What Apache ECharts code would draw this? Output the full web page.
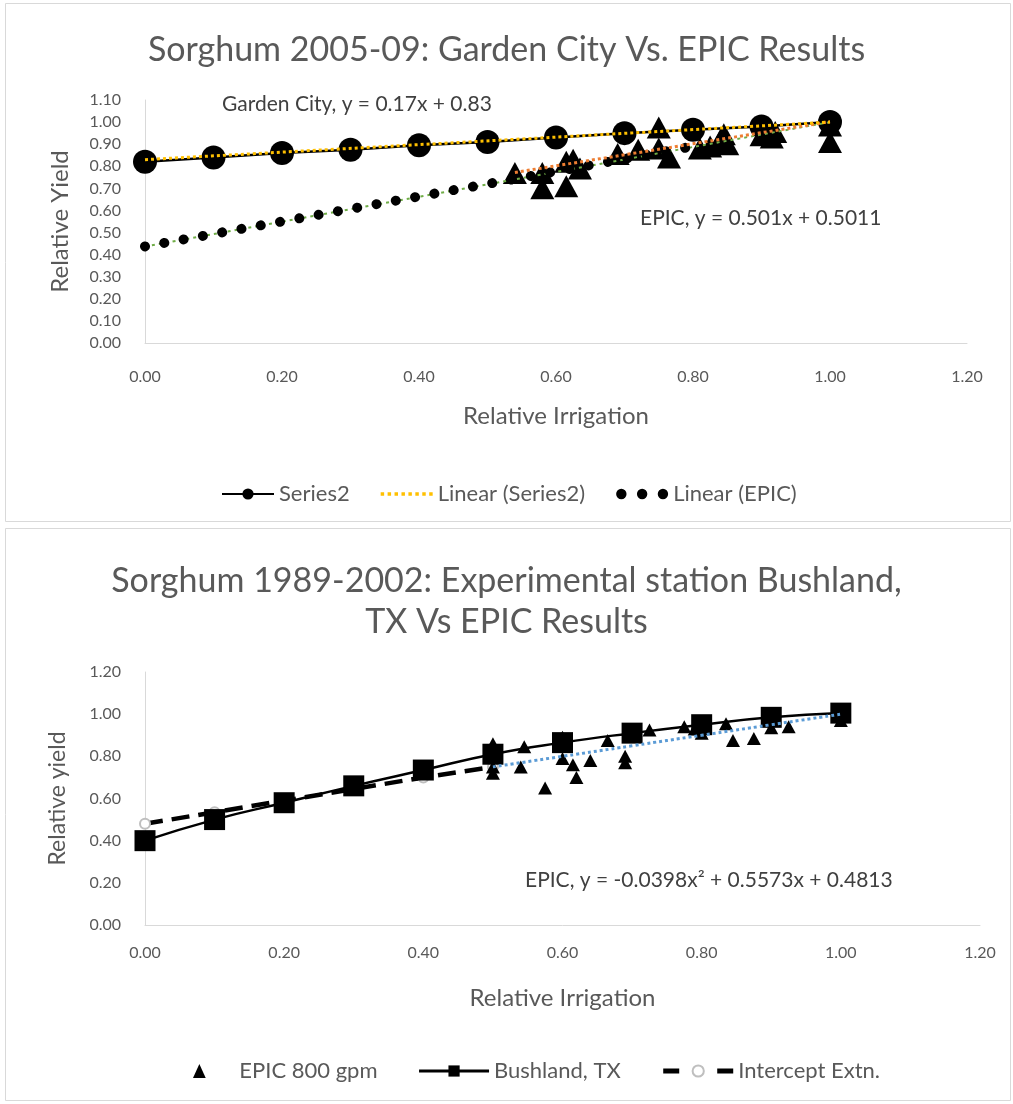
<!DOCTYPE html>
<html><head><meta charset="utf-8">
<script src="https://cdn.jsdelivr.net/npm/echarts@6/dist/echarts.min.js"></script>
<style>html,body{margin:0;padding:0;background:#fff}#c{width:1013px;height:1104px}</style>
</head><body><div id="c"></div>
<script>
const FONT = 'Lato, "Liberation Sans", sans-serif';
// ---------- Top chart data ----------
const gardenX = [0, 0.1, 0.2, 0.3, 0.4, 0.5, 0.6, 0.7, 0.8, 0.9, 1.0];
const gardenY = [0.82, 0.84, 0.86, 0.875, 0.895, 0.91, 0.93, 0.95, 0.965, 0.98, 1.0];
const gardenTrend = [[0, 0.83], [1.0, 1.0]];
const epicTopPts = [[0.54,0.77],[0.58,0.77],[0.58,0.70],[0.615,0.71],[0.615,0.82],[0.625,0.83],[0.635,0.79],
  [0.69,0.855],[0.72,0.875],[0.75,0.975],[0.75,0.88],[0.765,0.84],[0.81,0.88],[0.825,0.89],[0.84,0.92],
  [0.845,0.945],[0.85,0.90],[0.90,0.94],[0.915,0.93],[0.92,0.955],[1.0,0.985],[1.0,0.91]];
const epicTopTrend = [[0.54, 0.772], [1.0, 1.002]];
const epicExtension = [[0, 0.437], [0.8, 0.89]];
const epicGreen = [[0, 0.437], [1.0, 1.0]];
// ---------- Bottom chart data ----------
const bushX = [0, 0.1, 0.2, 0.3, 0.4, 0.5, 0.6, 0.7, 0.8, 0.9, 1.0];
const bushY = [0.40, 0.50, 0.58, 0.66, 0.735, 0.81, 0.865, 0.91, 0.95, 0.985, 1.005];
const interceptX = [0, 0.1, 0.2, 0.3, 0.4, 0.5];
const interceptY = [0.48, 0.535, 0.59, 0.645, 0.70, 0.75];
const epic800 = [[0.50,0.86],[0.50,0.75],[0.50,0.72],[0.545,0.845],[0.54,0.75],[0.575,0.65],[0.60,0.89],
  [0.60,0.79],[0.615,0.76],[0.62,0.70],[0.64,0.78],[0.665,0.875],[0.69,0.80],[0.69,0.77],[0.725,0.925],
  [0.775,0.94],[0.79,0.93],[0.80,0.91],[0.835,0.955],[0.845,0.875],[0.875,0.885],[0.90,0.935],[0.925,0.94],[1.0,0.97]];
const epicPolyTrend = [[0.5,0.75],[0.6,0.80],[0.7,0.85],[0.8,0.90],[0.9,0.95],[1.0,1.0]];

const pair = (xs, ys) => xs.map((x, i) => [x, ys[i]]);
const grey = '#595959';
const axisLbl = { color: grey, fontSize: 16, fontFamily: FONT, formatter: v => v.toFixed(2) };
const axisLine = { show: true, lineStyle: { color: '#d9d9d9', width: 1 } };
const nameStyleX = { color: grey, fontSize: 24, fontFamily: FONT };

const yellowIcon = 'path://' + [0,6,12,18,24,30,36,42].map(x => `M${x},0h3v3h-3z`).join('');
const dotsIcon = 'path://M0,5a5,5 0 1,0 10,0a5,5 0 1,0 -10,0M20,5a5,5 0 1,0 10,0a5,5 0 1,0 -10,0M40,5a5,5 0 1,0 10,0a5,5 0 1,0 -10,0';
const triIcon = 'path://M5,0L10,11L0,11Z';

const chart = echarts.init(document.getElementById('c'));
chart.setOption({
  backgroundColor: '#fff',
  animation: false,
  title: [
    { text: 'Sorghum 2005-09: Garden City Vs. EPIC Results', left: 'center', top: 28,
      textStyle: { fontFamily: FONT, fontSize: 34, fontWeight: 'normal', color: grey } },
    { text: 'Sorghum 1989-2002: Experimental station Bushland,\nTX Vs EPIC Results', left: 'center', top: 556,
      textStyle: { fontFamily: FONT, fontSize: 34, fontWeight: 'normal', color: grey, lineHeight: 41 } }
  ],
  grid: [
    { left: 145, right: 46, top: 100, height: 243 },
    { left: 145, right: 33, top: 672, height: 253 }
  ],
  xAxis: [
    { gridIndex: 0, type: 'value', min: 0, max: 1.2, interval: 0.2, axisLine, axisTick: { show: false },
      splitLine: { show: false }, axisLabel: { ...axisLbl, margin: 26 },
      name: 'Relative Irrigation', nameLocation: 'middle', nameGap: 61, nameTextStyle: nameStyleX },
    { gridIndex: 1, type: 'value', min: 0, max: 1.2, interval: 0.2, axisLine, axisTick: { show: false },
      splitLine: { show: false }, axisLabel: { ...axisLbl, margin: 20 },
      name: 'Relative Irrigation', nameLocation: 'middle', nameGap: 61, nameTextStyle: nameStyleX }
  ],
  yAxis: [
    { gridIndex: 0, type: 'value', min: 0, max: 1.1, interval: 0.1, axisLine, axisTick: { show: false },
      splitLine: { show: false }, axisLabel: { ...axisLbl, margin: 24 },
      name: 'Relative Yield', nameLocation: 'middle', nameGap: 73,
      nameTextStyle: { color: grey, fontSize: 24, fontFamily: FONT } },
    { gridIndex: 1, type: 'value', min: 0, max: 1.2, interval: 0.2, axisLine, axisTick: { show: false },
      splitLine: { show: false }, axisLabel: { ...axisLbl, margin: 24 },
      name: 'Relative yield', nameLocation: 'middle', nameGap: 76,
      nameTextStyle: { color: grey, fontSize: 23, fontFamily: FONT } }
  ],
  legend: [
    { left: 216, top: 478, itemGap: 31, itemWidth: 52, itemHeight: 14,
      textStyle: { color: grey, fontSize: 22, fontFamily: FONT },
      data: [
        { name: 'Series2' },
        { name: 'Linear (Series2)', icon: yellowIcon, itemStyle: { color: '#ffc000' } },
        { name: 'Linear (EPIC)', icon: dotsIcon, itemStyle: { color: '#000' } }
      ] },
    { left: 188, top: 1055, itemGap: 40, itemWidth: 70, itemHeight: 14,
      textStyle: { color: grey, fontSize: 22, fontFamily: FONT },
      data: [
        { name: 'EPIC 800 gpm', icon: triIcon, itemStyle: { color: '#000' } },
        { name: 'Bushland, TX', lineStyle: { width: 3, color: '#000' } },
        { name: 'Intercept Extn.', lineStyle: { width: 5, color: '#000', type: [16, 38] },
          itemStyle: { color: '#bfbfbf', borderColor: '#bfbfbf', borderWidth: 1.5 } }
      ] }
  ],
  series: [
    // ---- top ----
    { name: 'Series2', type: 'line', xAxisIndex: 0, yAxisIndex: 0, data: pair(gardenX, gardenY),
      symbol: 'circle', symbolSize: 24, itemStyle: { color: '#000' }, lineStyle: { color: '#000', width: 2.5 }, z: 2 },
    { name: 'EPIC', type: 'scatter', xAxisIndex: 0, yAxisIndex: 0, data: epicTopPts,
      symbol: 'triangle', symbolSize: [24, 22], itemStyle: { color: '#000', opacity: 1 }, z: 3 },
    { name: 'EPIC green', type: 'line', xAxisIndex: 0, yAxisIndex: 0, data: epicGreen, symbol: 'none',
      lineStyle: { color: '#70ad47', width: 2, type: [3, 4] }, z: 4 },
    { name: 'Linear (EPIC)', type: 'line', xAxisIndex: 0, yAxisIndex: 0, data: epicExtension, symbol: 'none',
      itemStyle: { color: '#000' },
      lineStyle: { color: '#000', width: 10, type: [0.01, 19.6], cap: 'round' }, z: 5 },
    { name: 'EPIC trend', type: 'line', xAxisIndex: 0, yAxisIndex: 0, data: epicTopTrend, symbol: 'none',
      lineStyle: { color: '#ed7d31', width: 3, type: [3, 3] }, z: 6 },
    { name: 'Linear (Series2)', type: 'line', xAxisIndex: 0, yAxisIndex: 0, data: gardenTrend, symbol: 'none',
      itemStyle: { color: '#ffc000' }, lineStyle: { color: '#ffc000', width: 3, type: [3, 3] }, z: 7 },
    // ---- bottom ----
    { name: 'Intercept Extn.', type: 'line', xAxisIndex: 1, yAxisIndex: 1, data: pair(interceptX, interceptY),
      symbol: 'emptyCircle', symbolSize: 10, itemStyle: { color: '#bfbfbf', borderColor: '#bfbfbf', borderWidth: 1.5 },
      lineStyle: { color: '#000', width: 4.5, type: [18, 9] }, z: 2 },
    { name: 'Bushland, TX', type: 'line', xAxisIndex: 1, yAxisIndex: 1, data: pair(bushX, bushY), smooth: true,
      symbol: 'rect', symbolSize: 21, itemStyle: { color: '#000' }, lineStyle: { color: '#000', width: 2.5 }, z: 3 },
    { name: 'EPIC 800 gpm', type: 'scatter', xAxisIndex: 1, yAxisIndex: 1, data: epic800,
      symbol: 'triangle', symbolSize: [14, 13], itemStyle: { color: '#000', opacity: 1 }, z: 4 },
    { name: 'Poly (EPIC 800 gpm)', type: 'line', xAxisIndex: 1, yAxisIndex: 1, data: epicPolyTrend, smooth: true,
      symbol: 'none', lineStyle: { color: '#5b9bd5', width: 3, type: [3, 3] }, z: 5 }
  ],
  graphic: [
    { type: 'rect', shape: { x: 5.5, y: 3.5, width: 1005, height: 518 }, style: { fill: 'none', stroke: '#d9d9d9', lineWidth: 1 }, z: -1 },
    { type: 'rect', shape: { x: 5.5, y: 528.5, width: 1005, height: 572 }, style: { fill: 'none', stroke: '#d9d9d9', lineWidth: 1 }, z: -1 },
    { type: 'text', left: 222, top: 94, style: { text: 'Garden City, y = 0.17x + 0.83', fill: '#404040', font: '21px ' + FONT } },
    { type: 'text', left: 640, top: 208, style: { text: 'EPIC, y = 0.501x + 0.5011', fill: '#404040', font: '21px ' + FONT } },
    { type: 'text', left: 525, top: 870, style: { text: 'EPIC, y = -0.0398x² + 0.5573x + 0.4813', fill: '#404040', font: '21px ' + FONT } }
  ]
});
</script></body></html>
